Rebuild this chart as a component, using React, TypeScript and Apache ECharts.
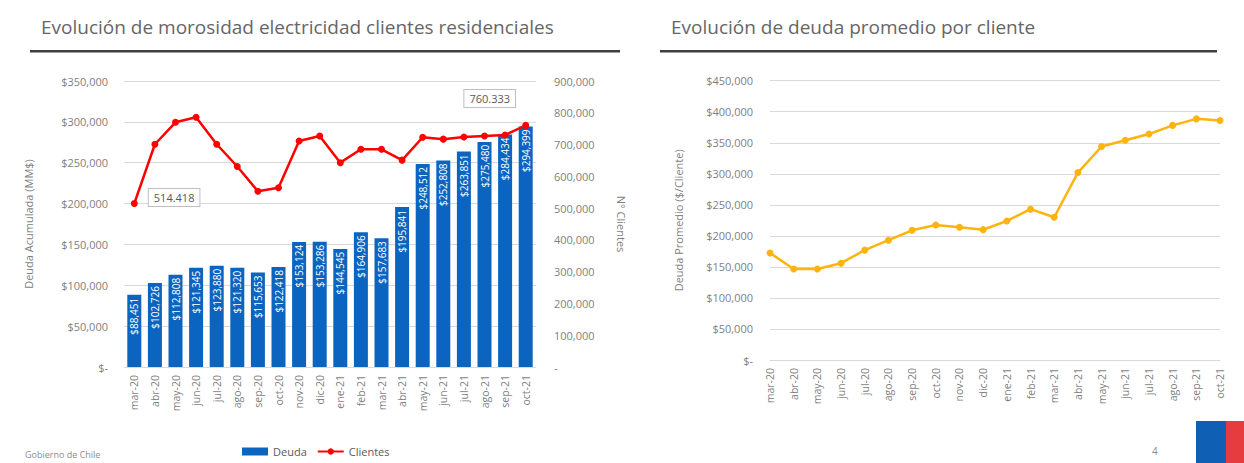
import React, { useEffect, useRef } from "react";
import * as echarts from "echarts";

const categories = [
  "mar-20", "abr-20", "may-20", "jun-20", "jul-20", "ago-20", "sep-20", "oct-20", "nov-20", "dic-20",
  "ene-21", "feb-21", "mar-21", "abr-21", "may-21", "jun-21", "jul-21", "ago-21", "sep-21", "oct-21",
];
const deuda = [
  88451, 102726, 112808, 121345, 123880, 121320, 115653, 122418, 153124, 153286,
  144545, 164906, 157683, 195841, 248512, 252808, 263851, 275480, 284434, 294399,
];
const clientes = [
  514418, 701000, 770000, 786000, 701000, 631000, 553000, 564000, 711000, 727000,
  643000, 685000, 685000, 651000, 723000, 717000, 724000, 727000, 730000, 760333,
];
const deudaPromedio = [
  172500, 146500, 146500, 156000, 177000, 193000, 209000, 217500, 214000, 210000,
  224000, 243000, 230000, 302000, 344000, 354000, 364000, 378000, 388500, 386000,
];
const titleLeft = "Evolución de morosidad electricidad clientes residenciales";
const titleRight = "Evolución de deuda promedio por cliente";

const FONT = "'Open Sans', Lato, sans-serif";
const GRAY = "#7F7F7F";
const TITLE_GRAY = "#666666";

const money = (v: number) => (v === 0 ? "$-" : "$" + v.toLocaleString("en-US"));
const plain = (v: number) => (v === 0 ? "-" : v.toLocaleString("en-US"));
const dotted = (v: number) => v.toLocaleString("de-DE");

export default function App() {
  const ref = useRef<HTMLDivElement>(null);
  useEffect(() => {
    if (!ref.current) return;
    const chart = echarts.init(ref.current, null, { renderer: "svg" });
    const last = clientes.length - 1;
    const boxLabel = {
      show: true,
      formatter: (p: any) => dotted(p.value),
      backgroundColor: "#ffffff",
      borderColor: "#BFBFBF",
      borderWidth: 1,
      padding: [3, 5],
      color: "#595959",
      fontSize: 11,
      fontFamily: FONT,
    };
    const clientesData = clientes.map((v, i) => {
      if (i === 0) return { value: v, label: { ...boxLabel, position: "right", offset: [6, -6] } };
      if (i === last) return { value: v, label: { ...boxLabel, position: "top", offset: [-36, -10] } };
      return v;
    });
    const axisLabelBase = { color: GRAY, fontSize: 11, fontFamily: FONT };
    chart.setOption({
      animation: false,
      textStyle: { fontFamily: FONT },
      graphic: [
        { type: "text", left: 41, top: 17, style: { text: titleLeft, fontSize: 19, fill: TITLE_GRAY, fontFamily: FONT } },
        { type: "rect", shape: { x: 30, y: 50, width: 590, height: 2.5 }, style: { fill: "#3F3F3F" } },
        { type: "text", left: 671, top: 17, style: { text: titleRight, fontSize: 19, fill: TITLE_GRAY, fontFamily: FONT } },
        { type: "rect", shape: { x: 660, y: 50, width: 557, height: 2.5 }, style: { fill: "#3F3F3F" } },
        { type: "text", left: 25, top: 450, style: { text: "Gobierno de Chile", fontSize: 9, fill: "#8C8C8C", fontFamily: FONT } },
        { type: "text", left: 1152, top: 446, style: { text: "4", fontSize: 10, fill: "#8C8C8C", fontFamily: FONT } },
        { type: "rect", shape: { x: 1196, y: 421, width: 30, height: 42 }, style: { fill: "#0F5FB5" } },
        { type: "rect", shape: { x: 1226, y: 421, width: 18, height: 42 }, style: { fill: "#E63C3F" } },
      ],
      legend: {
        data: [
          { name: "Deuda", icon: "rect" },
          { name: "Clientes" },
        ],
        left: 237,
        top: 441,
        itemWidth: 26,
        itemHeight: 8,
        itemGap: 10,
        textStyle: { color: "#595959", fontSize: 11, fontFamily: FONT },
      },
      grid: [
        { left: 124, right: 708, top: 81, bottom: 96 },
        { left: 770, right: 24, top: 80.7, bottom: 103 },
      ],
      xAxis: [
        {
          type: "category",
          gridIndex: 0,
          data: categories,
          axisLine: { show: false },
          axisTick: { show: false },
          axisLabel: { ...axisLabelBase, fontSize: 10.5, rotate: 90, margin: 8 },
        },
        {
          type: "category",
          gridIndex: 1,
          data: categories,
          boundaryGap: false,
          axisLine: { show: true, lineStyle: { color: "#D9D9D9" } },
          axisTick: { show: false },
          axisLabel: { ...axisLabelBase, fontSize: 10.5, rotate: 90, margin: 8 },
        },
      ],
      yAxis: [
        {
          type: "value",
          gridIndex: 0,
          min: 0,
          max: 350000,
          interval: 50000,
          name: "Deuda Acumulada (MM$)",
          nameLocation: "middle",
          nameGap: 90,
          nameTextStyle: { color: GRAY, fontSize: 11, fontFamily: FONT },
          axisLabel: { ...axisLabelBase, formatter: money, margin: 16 },
          splitLine: { lineStyle: { color: "#D9D9D9" } },
          axisLine: { show: false },
          axisTick: { show: false },
        },
        {
          type: "value",
          gridIndex: 0,
          position: "right",
          min: 0,
          max: 900000,
          interval: 100000,
          name: "N° Clientes",
          nameLocation: "middle",
          nameGap: 80,
          nameRotate: -90,
          nameTextStyle: { color: GRAY, fontSize: 11, fontFamily: FONT },
          axisLabel: { ...axisLabelBase, formatter: plain, margin: 18 },
          splitLine: { show: false },
          axisLine: { show: false },
          axisTick: { show: false },
        },
        {
          type: "value",
          gridIndex: 1,
          min: 0,
          max: 450000,
          interval: 50000,
          name: "Deuda Promedio ($/Cliente)",
          nameLocation: "middle",
          nameGap: 86,
          nameTextStyle: { color: GRAY, fontSize: 11, fontFamily: FONT },
          axisLabel: { ...axisLabelBase, formatter: money, margin: 17 },
          splitLine: { lineStyle: { color: "#D9D9D9" } },
          axisLine: { show: false },
          axisTick: { show: false },
        },
      ],
      series: [
        {
          name: "Deuda",
          type: "bar",
          xAxisIndex: 0,
          yAxisIndex: 0,
          data: deuda,
          barWidth: 14,
          itemStyle: { color: "#0B64C0" },
          label: {
            show: true,
            position: "insideTop",
            rotate: 90,
            align: "right",
            verticalAlign: "middle",
            distance: 3,
            color: "#ffffff",
            fontSize: 10,
            fontFamily: FONT,
            formatter: (p: any) => "$" + p.value.toLocaleString("en-US"),
          },
          z: 1,
        },
        {
          name: "Clientes",
          type: "line",
          xAxisIndex: 0,
          yAxisIndex: 1,
          data: clientesData,
          symbol: "circle",
          symbolSize: 7,
          itemStyle: { color: "#FF0000" },
          lineStyle: { color: "#FF0000", width: 2.5 },
          z: 3,
        },
        {
          name: "Promedio",
          type: "line",
          xAxisIndex: 1,
          yAxisIndex: 2,
          data: deudaPromedio,
          symbol: "circle",
          symbolSize: 7,
          itemStyle: { color: "#FFB30F" },
          lineStyle: { color: "#FFB30F", width: 2.5 },
        },
      ],
    });
    return () => chart.dispose();
  }, []);
  return (
    <div
      ref={ref}
      style={{ position: "fixed", left: 0, top: 0, width: 1244, height: 463, background: "#ffffff" }}
    />
  );
}
